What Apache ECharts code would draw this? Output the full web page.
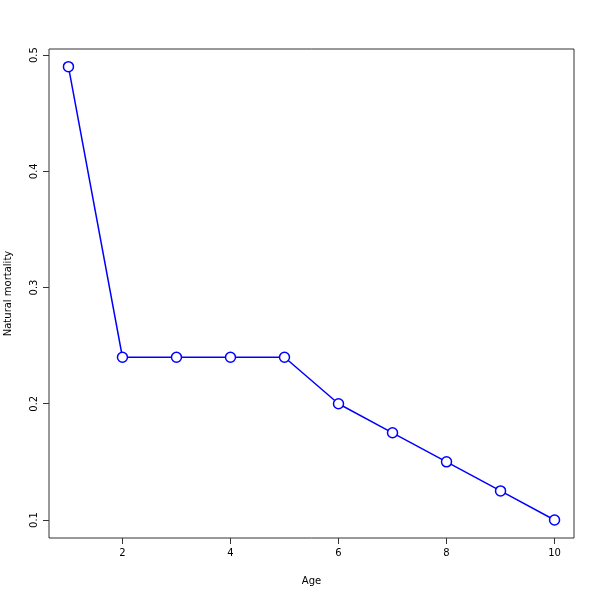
<!DOCTYPE html>
<html><head><meta charset="utf-8">
<script src="https://cdn.jsdelivr.net/npm/echarts@6/dist/echarts.min.js"></script>
<style>html,body{margin:0;padding:0;background:#fff}#c{width:600px;height:600px}</style>
</head><body><div id="c"></div>
<script>
const ages = [1,2,3,4,5,6,7,8,9,10];
const mortality = [0.49,0.24,0.24,0.24,0.24,0.2,0.175,0.15,0.125,0.1];
const xTicks = [2,4,6,8,10];
const yTicks = [0.1,0.2,0.3,0.4,0.5];
const xTitle = 'Age';
const yTitle = 'Natural mortality';

const chart = echarts.init(document.getElementById('c'), null, {renderer:'canvas'});
const font = 'DejaVu Sans';
chart.setOption({
  animation:false,
  backgroundColor:'#fff',
  grid:{left:49,right:26,top:49,bottom:62,outerBoundsMode:'none',containLabel:false,
    show:true,borderColor:'#333',borderWidth:1,backgroundColor:'transparent'},
  xAxis:{type:'value',min:0.64,max:10.36,
    name:xTitle,nameLocation:'middle',nameGap:38,
    nameTextStyle:{fontFamily:font,fontSize:10,color:'#000'},
    axisLine:{show:false},
    splitLine:{show:false},
    axisTick:{show:true,length:6,customValues:xTicks,lineStyle:{color:'#333'}},
    axisLabel:{customValues:xTicks,fontFamily:font,fontSize:10,color:'#000',margin:10}
  },
  yAxis:{type:'value',min:0.0845,max:0.5052,
    name:yTitle,nameLocation:'middle',nameGap:36,nameRotate:90,
    nameTextStyle:{fontFamily:font,fontSize:10,color:'#000'},
    axisLine:{show:false},
    splitLine:{show:false},
    axisTick:{show:true,length:6,customValues:yTicks,lineStyle:{color:'#333'}},
    axisLabel:{customValues:yTicks,rotate:90,fontFamily:font,fontSize:10,color:'#000',margin:10,
      formatter:v=>String(Math.round(v*10)/10)}
  },
  series:[{type:'line',data:ages.map((a,i)=>[a,mortality[i]]),
    symbol:'circle',symbolSize:10,
    lineStyle:{color:'#0000ff',width:1.5},
    itemStyle:{color:'#fff',borderColor:'#0000ff',borderWidth:1.5}
  }]
});
</script></body></html>
